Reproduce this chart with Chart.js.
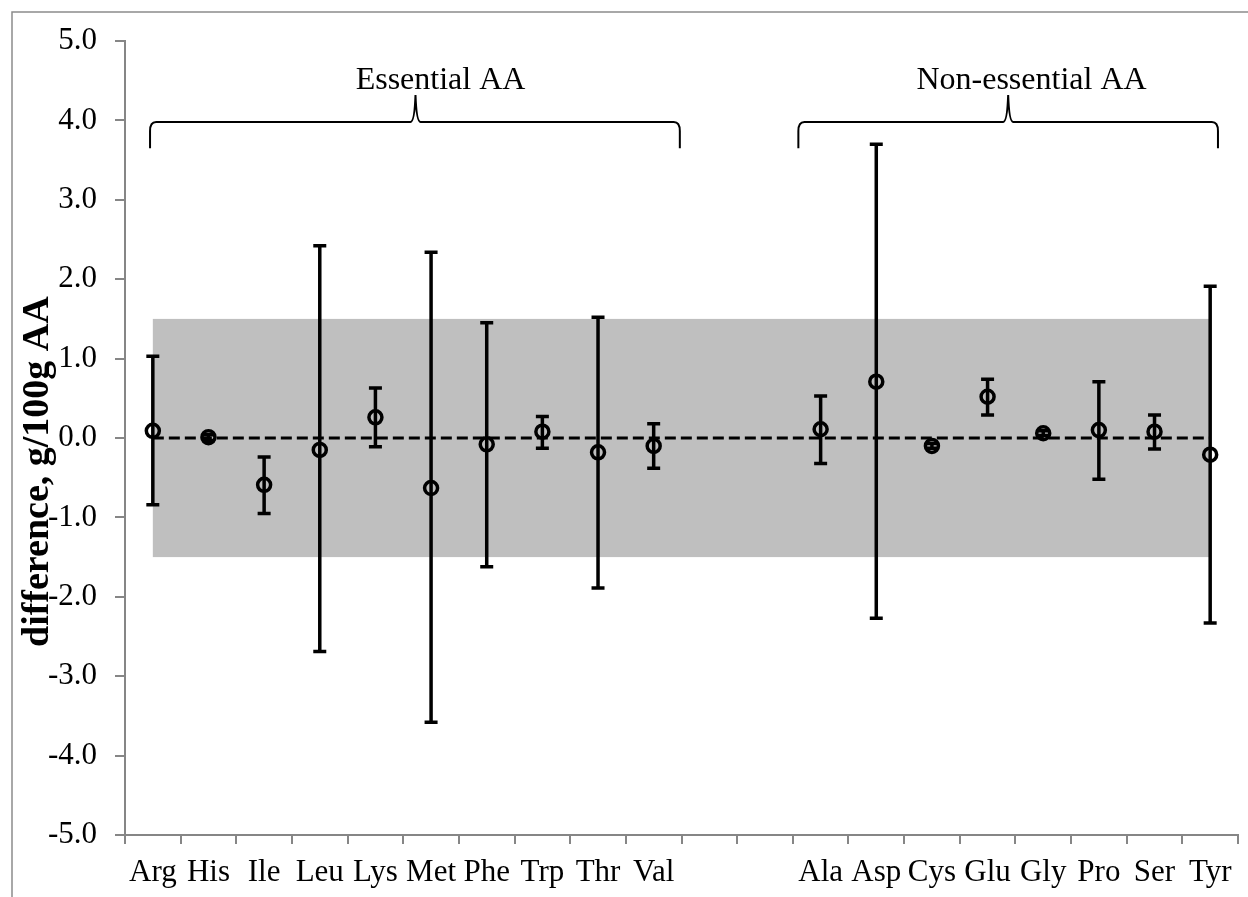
<!DOCTYPE html>
<html lang="en">
<head>
  <meta charset="UTF-8" />
  <title>Amino acid differences</title>
  <script src="https://cdn.jsdelivr.net/npm/chart.js"></script>
  <style>
    html, body {
      margin: 0;
      padding: 0;
      background: #fff;
    }

    .wrap {
      width: 1248px;
      height: 897px;
      position: relative;
    }
  </style>
</head>
<body>
  <div class="wrap">
    <canvas id="myChart"></canvas>
  </div>

  <script>
    // categories (two blank slots separate the groups)
    const aminoAcids = ['Arg', 'His', 'Ile', 'Leu', 'Lys', 'Met', 'Phe', 'Trp', 'Thr', 'Val', '', '',
                        'Ala', 'Asp', 'Cys', 'Glu', 'Gly', 'Pro', 'Ser', 'Tyr'];
    // mean difference, g/100g AA
    const meanDiff   = [0.09, 0.01, -0.59, -0.15, 0.26, -0.63, -0.08, 0.08, -0.18, -0.10, null, null,
                        0.11, 0.71, -0.10, 0.52, 0.06, 0.10, 0.08, -0.21];
    // upper / lower limits of the error bars
    const upperLimit = [1.03, 0.04, -0.24, 2.42, 0.63, 2.34, 1.45, 0.27, 1.52, 0.18, null, null,
                        0.53, 3.70, -0.07, 0.74, 0.09, 0.71, 0.29, 1.91];
    const lowerLimit = [-0.84, -0.03, -0.95, -2.69, -0.11, -3.58, -1.62, -0.13, -1.89, -0.38, null, null,
                        -0.32, -2.27, -0.13, 0.29, 0.03, -0.52, -0.14, -2.33];
    // dashed reference line at zero
    const zeroLine   = [0, 0, 0, 0, 0, 0, 0, 0, 0, 0, 0, 0, 0, 0, 0, 0, 0, 0, 0, 0];
    // shaded acceptance range
    const bandLow = -1.5;
    const bandHigh = 1.5;
    // group labels
    const groupNames = ['Essential AA', 'Non-essential AA'];

    const yTitle = 'difference, g/100g AA';
    const serif = "'Liberation Serif', 'Times New Roman', serif";
    const axisGray = '#868686';

    // where the curly braces sit (category index / axis value)
    const braces = [
      { from: -0.05, to: 9.47, peak: 4.72, text: 5.17 },
      { from: 11.6, to: 19.14, peak: 15.37, text: 15.79 }
    ];
    const braceY = { end: 3.65, top: 3.98, peak: 4.32, text: 4.40 };

    function drawBrace(ctx, x1, x2, xm, yEnd, yTop, yPeak) {
      ctx.beginPath();
      ctx.moveTo(x1, yEnd);
      ctx.lineTo(x1, yTop + 9);
      ctx.quadraticCurveTo(x1, yTop, x1 + 6, yTop);
      ctx.lineTo(xm - 5, yTop);
      ctx.quadraticCurveTo(xm - 1, yTop, xm, yPeak);
      ctx.quadraticCurveTo(xm + 1, yTop, xm + 5, yTop);
      ctx.lineTo(x2 - 6, yTop);
      ctx.quadraticCurveTo(x2, yTop, x2, yTop + 9);
      ctx.lineTo(x2, yEnd);
      ctx.stroke();
    }

    const extras = {
      id: 'extras',
      beforeDraw(chart) {
        const ctx = chart.ctx;
        ctx.save();
        ctx.fillStyle = '#fff';
        ctx.fillRect(0, 0, chart.width, chart.height);
        // outer frame (top and left edges visible)
        ctx.strokeStyle = '#8c8c8c';
        ctx.lineWidth = 1.5;
        ctx.beginPath();
        ctx.moveTo(12, chart.height);
        ctx.lineTo(12, 12);
        ctx.lineTo(chart.width, 12);
        ctx.stroke();
        ctx.restore();
      },
      beforeDatasetsDraw(chart) {
        const { ctx, scales: { x, y } } = chart;
        const left = x.getPixelForValue(0);
        const right = x.getPixelForValue(aminoAcids.length - 1);
        const top = y.getPixelForValue(bandHigh);
        const bottom = y.getPixelForValue(bandLow);
        ctx.save();
        ctx.fillStyle = '#bfbfbf';
        ctx.fillRect(left, top, right - left, bottom - top);
        ctx.restore();
      },
      beforeDatasetDraw(chart, args) {
        if (args.index !== 0) return;
        const { ctx, scales: { x, y } } = chart;
        ctx.save();
        ctx.strokeStyle = '#000';
        ctx.lineWidth = 3.5;
        ctx.lineCap = 'butt';
        meanDiff.forEach((v, i) => {
          if (v === null) return;
          const px = x.getPixelForValue(i);
          const hi = y.getPixelForValue(upperLimit[i]);
          const lo = y.getPixelForValue(lowerLimit[i]);
          ctx.beginPath();
          ctx.moveTo(px, hi);
          ctx.lineTo(px, lo);
          ctx.moveTo(px - 6.5, hi);
          ctx.lineTo(px + 6.5, hi);
          ctx.moveTo(px - 6.5, lo);
          ctx.lineTo(px + 6.5, lo);
          ctx.stroke();
        });
        ctx.restore();
      },
      afterDraw(chart) {
        const { ctx, scales: { x, y } } = chart;
        ctx.save();
        ctx.strokeStyle = '#000';
        ctx.lineWidth = 2;
        ctx.fillStyle = '#000';
        ctx.font = '32px ' + serif;
        ctx.textAlign = 'center';
        ctx.textBaseline = 'alphabetic';
        braces.forEach((b, i) => {
          drawBrace(ctx,
            x.getPixelForValue(b.from), x.getPixelForValue(b.to), x.getPixelForValue(b.peak),
            y.getPixelForValue(braceY.end), y.getPixelForValue(braceY.top), y.getPixelForValue(braceY.peak));
          ctx.fillText(groupNames[i], x.getPixelForValue(b.text), y.getPixelForValue(braceY.text));
        });

        // y axis title, sits over the tick labels like the original
        ctx.translate(48, 647);
        ctx.rotate(-Math.PI / 2);
        ctx.font = 'bold 38px ' + serif;
        ctx.textAlign = 'left';
        ctx.fillText(yTitle, 0, 0);
        ctx.restore();
      }
    };

    Chart.defaults.font.family = serif;
    Chart.defaults.color = '#000';

    const ctx = document.getElementById('myChart').getContext('2d');
    const myChart = new Chart(ctx, {
      type: 'line',
      data: {
        labels: aminoAcids,
        datasets: [
          {
            label: 'difference',
            data: meanDiff,
            showLine: false,
            pointRadius: 6.5,
            pointBorderWidth: 3.5,
            pointBorderColor: '#000',
            pointBackgroundColor: 'rgba(0, 0, 0, 0)'
          },
          {
            label: 'zero',
            data: zeroLine,
            borderColor: '#000',
            borderWidth: 3,
            borderDash: [11, 5],
            pointRadius: 0,
            fill: false
          }
        ]
      },
      options: {
        responsive: true,
        maintainAspectRatio: false,
        animation: false,
        layout: {
          padding: { left: 0, right: 7, top: 41, bottom: 0 }
        },
        scales: {
          x: {
            type: 'category',
            offset: true,
            afterFit: (s) => { s.height = 62; },
            grid: {
              offset: true,
              drawOnChartArea: false,
              drawTicks: true,
              tickLength: 9,
              color: axisGray,
              lineWidth: 2
            },
            border: { color: axisGray, width: 2 },
            ticks: {
              autoSkip: false,
              maxRotation: 0,
              padding: 10,
              font: { size: 31 }
            }
          },
          y: {
            min: -5,
            max: 5,
            afterFit: (s) => { s.width = 125; },
            grid: {
              drawOnChartArea: false,
              drawTicks: true,
              tickLength: 10,
              color: axisGray,
              lineWidth: 2
            },
            border: { color: axisGray, width: 2 },
            ticks: {
              stepSize: 1,
              padding: 18,
              font: { size: 31 },
              callback: (v) => v.toFixed(1)
            }
          }
        },
        plugins: {
          legend: { display: false },
          tooltip: { enabled: false }
        }
      },
      plugins: [extras]
    });
  </script>
</body>
</html>
